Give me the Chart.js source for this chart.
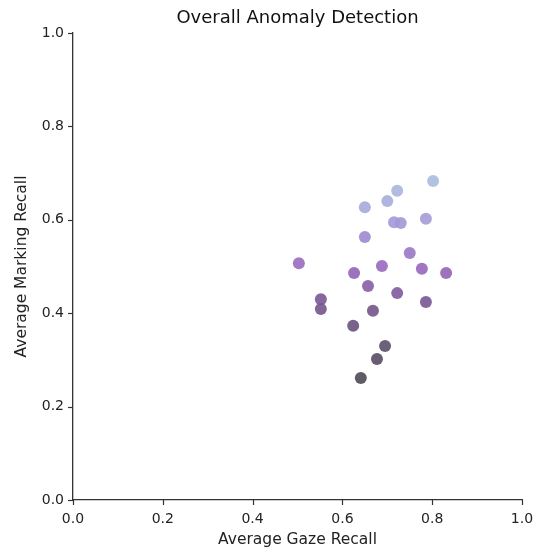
<!DOCTYPE html>
<html>
<head>
<meta charset="utf-8">
<script src="https://cdn.jsdelivr.net/npm/chart.js@4.4.1/dist/chart.umd.min.js"></script>
<style>
  html, body { margin: 0; padding: 0; background: #fff; }
  #wrap { width: 542px; height: 550px; }
</style>
</head>
<body>
<div id="wrap"><canvas id="chartAnomalia" width="542" height="550"></canvas></div>
<script>
// valores
const gazeRecall = [0.802, 0.722, 0.700, 0.650, 0.715, 0.730, 0.786, 0.650, 0.750, 0.503, 0.688, 0.626,
  0.777, 0.831, 0.657, 0.722, 0.552, 0.552, 0.786, 0.668, 0.624, 0.695, 0.677, 0.641];
const markingRecall = [0.683, 0.662, 0.640, 0.627, 0.595, 0.593, 0.602, 0.563, 0.529, 0.507, 0.501, 0.486,
  0.495, 0.486, 0.458, 0.443, 0.430, 0.409, 0.424, 0.405, 0.373, 0.330, 0.302, 0.261];
const ticksEje = [0.0, 0.2, 0.4, 0.6, 0.8, 1.0];
const titulo = 'Overall Anomaly Detection';

// color segun la altura del punto (azul claro arriba, gris oscuro abajo)
const paradas = [
  [0.26, [78, 74, 84]],
  [0.34, [95, 80, 110]],
  [0.43, [122, 86, 150]],
  [0.50, [152, 104, 190]],
  [0.57, [160, 140, 210]],
  [0.62, [166, 165, 218]],
  [0.68, [170, 188, 222]]
];
function colorPunto(v) {
  if (v <= paradas[0][0]) return paradas[0][1];
  for (let i = 1; i < paradas.length; i++) {
    if (v <= paradas[i][0]) {
      const a = paradas[i - 1], b = paradas[i];
      const t = (v - a[0]) / (b[0] - a[0]);
      return a[1].map((c, k) => Math.round(c + (b[1][k] - c) * t));
    }
  }
  return paradas[paradas.length - 1][1];
}
const colores = markingRecall.map(v => 'rgba(' + colorPunto(v).join(',') + ',0.9)');

const puntos = gazeRecall.map((x, i) => ({ x: x, y: markingRecall[i] }));
const fuente = "'DejaVu Sans', sans-serif";
const ejeColor = '#333';

new Chart(document.getElementById('chartAnomalia'), {
  type: 'scatter',
  data: {
    datasets: [{
      data: puntos,
      backgroundColor: colores,
      borderWidth: 0,
      pointRadius: 6,
      pointHoverRadius: 6
    }]
  },
  options: {
    responsive: false,
    animation: false,
    layout: { padding: { top: 33, right: 20, left: 0, bottom: 0 } },
    plugins: {
      legend: { display: false },
      tooltip: { enabled: false },
      title: { display: false }
    },
    scales: {
      x: {
        type: 'linear',
        min: 0, max: 1,
        afterBuildTicks: ax => { ax.ticks = ticksEje.map(v => ({ value: v })); },
        afterFit: ax => { ax.height = 50; },
        border: { display: true, color: ejeColor, width: 1.3 },
        grid: { display: false, drawTicks: true, tickLength: 5, tickColor: ejeColor },
        ticks: {
          color: '#222', padding: 6,
          font: { family: fuente, size: 14 },
          callback: v => v.toFixed(1)
        },
        title: {
          display: true, text: 'Average Gaze Recall', color: '#222',
          font: { family: fuente, size: 15.5 }, padding: { top: 0, bottom: 1 }
        }
      },
      y: {
        type: 'linear',
        min: 0, max: 1,
        afterBuildTicks: ax => { ax.ticks = ticksEje.map(v => ({ value: v })); },
        afterFit: ax => { ax.width = 73; },
        border: { display: true, color: ejeColor, width: 1.3 },
        grid: { display: false, drawTicks: true, tickLength: 5, tickColor: ejeColor },
        ticks: {
          color: '#222', padding: 4,
          font: { family: fuente, size: 14 },
          callback: v => v.toFixed(1)
        },
        title: {
          display: true, text: 'Average Marking Recall', color: '#222',
          font: { family: fuente, size: 15.5 }, padding: { top: 13, bottom: 4 }
        }
      }
    }
  },
  plugins: [{
    // titulo centrado sobre el area del grafico y marcas de los ticks
    id: 'marcasEje',
    afterDraw: chart => {
      const c = chart.ctx, xs = chart.scales.x, ys = chart.scales.y, area = chart.chartArea;
      c.save();
      c.fillStyle = '#111';
      c.font = '18px ' + fuente;
      c.textAlign = 'center';
      c.textBaseline = 'middle';
      c.fillText(titulo, (area.left + area.right) / 2, 18);
      c.strokeStyle = ejeColor;
      c.lineWidth = 1.2;
      ticksEje.forEach(v => {
        const px = Math.round(xs.getPixelForValue(v)) + 0.5;
        c.beginPath(); c.moveTo(px, xs.top); c.lineTo(px, xs.top + 5); c.stroke();
        const py = Math.round(ys.getPixelForValue(v)) + 0.5;
        c.beginPath(); c.moveTo(ys.right, py); c.lineTo(ys.right - 5, py); c.stroke();
      });
      c.restore();
    }
  }]
});
</script>
</body>
</html>
